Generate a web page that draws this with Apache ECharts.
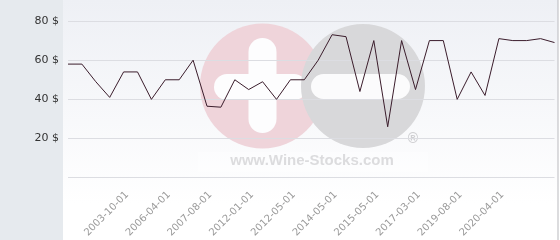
<!DOCTYPE html>
<html>
<head>
<meta charset="utf-8">
<script src="https://cdn.jsdelivr.net/npm/echarts@6/dist/echarts.min.js"></script>
<style>html,body{margin:0;padding:0;background:#fff}#c{width:560px;height:240px}</style>
</head>
<body>
<div id="c"></div>
<script>
const categories = ['2002-05-01','2002-10-01','2003-02-01','2003-06-01','2003-10-01','2004-06-01','2005-05-01','2006-04-01','2006-09-01','2007-02-01','2007-08-01','2008-11-01','2010-06-01','2012-01-01','2012-02-01','2012-04-01','2012-05-01','2013-01-01','2013-09-01','2014-05-01','2014-09-01','2015-01-01','2015-05-01','2015-12-01','2016-07-01','2017-03-01','2018-01-01','2018-10-01','2019-08-01','2019-11-01','2020-01-01','2020-04-01','2020-10-01','2021-05-01','2022-01-01','2022-09-01'];
const prices = [58,58,49,41,54,54,40,50,50,60,36.5,36,50,45,49,40,50,50,60,73,72,44,70,26,70,45,70,70,40,54,42,71,70,70,71,69];
const yTicks = [0,20,40,60,80];
const labelEvery = 3, firstLabel = 4, lastLabel = 31;

const chart = echarts.init(document.getElementById('c'), null, {renderer:'canvas'});
chart.setOption({
  animation:false,
  grid:{left:68,right:5.5,top:21,bottom:62},
  graphic:[
    {type:'rect',z:-20,shape:{x:0,y:0,width:63,height:240},style:{fill:'#e6eaee'}},
    {type:'rect',z:-20,shape:{x:63,y:0,width:495,height:240},style:{fill:new echarts.graphic.LinearGradient(0,0,0,1,[{offset:0,color:'#eef0f5'},{offset:0.85,color:'#ffffff'}])}},
    {type:'rect',z:-20,shape:{x:557.5,y:0,width:1,height:240},style:{fill:'#b9b9bd'}},
    {type:'circle',z:-10,shape:{cx:262.5,cy:86,r:62.5},style:{fill:'#efd4da'}},
    {type:'rect',z:-9,shape:{x:248.5,y:38,width:28,height:95,r:14},style:{fill:'#fdfdfe'}},
    {type:'rect',z:-9,shape:{x:214,y:74,width:93,height:26,r:13},style:{fill:'#fdfdfe'}},
    {type:'circle',z:-8,shape:{cx:363,cy:86,r:62},style:{fill:'#d8d8da'}},
    {type:'rect',z:-7,shape:{x:311,y:74,width:99,height:25,r:12.5},style:{fill:'#fbfbfc'}},
    {type:'text',z:-7,style:{x:413,y:139,text:'®',fill:'#cfcfd2',font:'bold 14px "Liberation Sans", Arial, sans-serif',align:'center',verticalAlign:'middle'}},
    {type:'rect',z:-7,shape:{x:198,y:152,width:230,height:20},style:{fill:'rgba(255,255,255,0.35)'}},
    {type:'text',z:-6,style:{x:312,y:161,text:'www.Wine-Stocks.com',fill:'#dcdcde',font:'bold 15px "Liberation Sans", Arial, sans-serif',align:'center',verticalAlign:'middle'}}
  ],
  xAxis:{
    type:'category',
    data:categories,
    boundaryGap:false,
    axisLine:{show:false},
    axisTick:{show:false},
    axisLabel:{
      rotate:45,
      margin:12,
      verticalAlign:'top',
      color:'#9a9a9a',
      fontFamily:'DejaVu Sans',
      fontSize:10,
      interval:function(i){return i>=firstLabel && i<=lastLabel && (i-firstLabel)%labelEvery===0;}
    },
    splitLine:{show:false}
  },
  yAxis:{
    type:'value',
    min:yTicks[0],
    max:yTicks[yTicks.length-1],
    interval:20,
    axisLine:{show:false},
    axisTick:{show:false},
    axisLabel:{
      margin:9,
      color:'#333',
      fontFamily:'DejaVu Sans',
      fontSize:11,
      formatter:function(v){return v===0?'':v+' $';}
    },
    splitLine:{lineStyle:{color:'#dcdde2',width:1}}
  },
  series:[{
    type:'line',
    data:prices,
    symbol:'none',
    lineStyle:{color:'#3b1d2c',width:1},
    z:5
  }]
});
</script>
</body>
</html>
